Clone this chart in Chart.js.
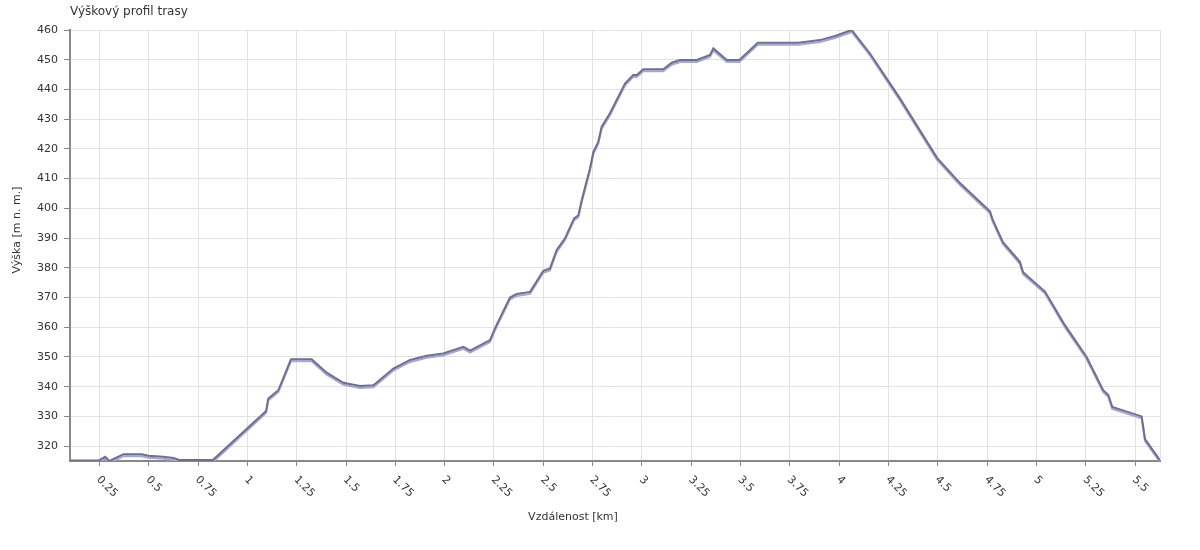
<!DOCTYPE html>
<html>
<head>
<meta charset="utf-8">
<script src="https://cdn.jsdelivr.net/npm/chart.js@4"></script>
<style>
  html, body { margin: 0; padding: 0; background: #fff; }
  #wrap { width: 1200px; height: 550px; }
</style>
</head>
<body>
<div id="wrap"><canvas id="profile" width="1200" height="550"></canvas></div>
<script>
// profile samples
const distKm = [0.101, 0.248, 0.279, 0.301, 0.372, 0.465, 0.498, 0.574, 0.625, 0.659, 0.825,
  1.095, 1.106, 1.157, 1.221, 1.326, 1.402, 1.487, 1.571, 1.639, 1.740, 1.825, 1.909, 1.993,
  2.095, 2.129, 2.230, 2.255, 2.331, 2.365, 2.433, 2.500, 2.534, 2.568, 2.610, 2.656, 2.678, 2.695,
  2.737, 2.754, 2.779, 2.796, 2.838, 2.914, 2.956, 2.974, 3.007, 3.108, 3.151, 3.193, 3.278,
  3.345, 3.362, 3.430, 3.494, 3.587, 3.793, 3.903, 3.979, 4.063, 4.156, 4.308, 4.496, 4.612,
  4.764, 4.779, 4.830, 4.916, 4.932, 5.043, 5.144, 5.254, 5.338, 5.364, 5.384, 5.533, 5.550, 5.626];
const elevM = [315.2, 315.2, 316.4, 315.0, 317.3, 317.3, 316.8, 316.4, 316.0, 315.3, 315.3,
  331.8, 336.0, 338.8, 349.2, 349.2, 344.7, 341.3, 340.2, 340.5, 346.1, 349.0, 350.4, 351.2,
  353.4, 352.1, 355.7, 359.6, 370.0, 371.2, 371.9, 379.0, 379.8, 386.0, 389.9, 396.6, 397.7, 402.8,
  413.5, 419.0, 422.4, 427.5, 432.0, 442.0, 444.9, 444.9, 446.8, 446.8, 449.0, 449.9, 449.9,
  451.6, 453.8, 449.9, 449.9, 455.7, 455.7, 456.6, 458.0, 460.0, 452.1, 437.0, 417.0, 408.5,
  399.0, 396.0, 388.6, 382.0, 378.5, 372.0, 360.7, 350.0, 338.8, 337.2, 333.2, 330.0, 322.4, 315.3];

const xTicks = [0.25, 0.5, 0.75, 1, 1.25, 1.5, 1.75, 2, 2.25, 2.5, 2.75, 3, 3.25, 3.5, 3.75, 4,
  4.25, 4.5, 4.75, 5, 5.25, 5.5];
const yTicks = [320, 330, 340, 350, 360, 370, 380, 390, 400, 410, 420, 430, 440, 450, 460];

const xMin = distKm[0], xMax = distKm[distKm.length - 1];
const titleText = 'Výškový profil trasy';
const xTitle = 'Vzdálenost [km]';
const yTitle = 'Výška [m n. m.]';

const FONT = '"DejaVu Sans", sans-serif';
const TEXT = '#333';

const points = distKm.map((d, i) => ({ x: d, y: elevM[i] }));

// shadow under the line + custom texts (rotated x labels, titles)
const decor = {
  id: 'decor',
  beforeDatasetsDraw(chart){
    const c = chart.ctx;
    c.save();
    c.shadowColor = '#a6a6d6';
    c.shadowOffsetX = 0;
    c.shadowOffsetY = 2;
    c.shadowBlur = 0;
  },
  afterDatasetsDraw(chart){
    chart.ctx.restore();
  },
  afterDraw(chart){
    const c = chart.ctx;
    const xs = chart.scales.x;
    const area = chart.chartArea;
    c.save();
    c.fillStyle = TEXT;
    c.font = '11px ' + FONT;
    c.textAlign = 'left';
    c.textBaseline = 'middle';
    xTicks.forEach(v => {
      const px = xs.getPixelForValue(v);
      c.save();
      c.translate(px - 1, 478);
      c.rotate(Math.PI / 4);
      c.fillText(String(v), 0, 0);
      c.restore();
    });
    c.textBaseline = 'alphabetic';
    c.font = '12px ' + FONT;
    c.fillText(titleText, area.left, 15);
    c.font = '11px ' + FONT;
    c.textAlign = 'center';
    c.fillText(xTitle, 573, 520);
    c.save();
    c.translate(17, 230);
    c.rotate(-Math.PI / 2);
    c.textBaseline = 'middle';
    c.fillText(yTitle, 0, 0);
    c.restore();
    c.restore();
  }
};

new Chart(document.getElementById('profile'), {
  type: 'line',
  data: {
    datasets: [{
      data: points,
      borderColor: '#6f6f8e',
      borderWidth: 2,
      pointRadius: 0,
      tension: 0,
      fill: false
    }]
  },
  options: {
    responsive: false,
    animation: false,
    parsing: false,
    layout: { padding: { top: 30, right: 40, left: 0, bottom: 0 } },
    plugins: { legend: { display: false }, tooltip: { enabled: false }, title: { display: false } },
    scales: {
      x: {
        type: 'linear',
        min: xMin,
        max: xMax,
        afterBuildTicks: s => { s.ticks = xTicks.concat([xMax]).map(v => ({ value: v })); },
        afterFit: s => { s.height = 89; },
        ticks: { display: false },
        grid: {
          color: '#e2e2e2',
          lineWidth: 1,
          tickLength: 5,
          tickColor: ctx => (ctx.tick && ctx.tick.value === xMax) ? 'rgba(0,0,0,0)' : '#888'
        },
        border: { color: '#888', width: 2 }
      },
      y: {
        min: 315,
        max: 460,
        afterBuildTicks: s => { s.ticks = yTicks.map(v => ({ value: v })); },
        afterFit: s => { s.width = 70; },
        ticks: { color: TEXT, font: { family: FONT, size: 11 }, padding: 6 },
        grid: { color: '#e2e2e2', lineWidth: 1, tickLength: 6, tickColor: '#888' },
        border: { color: '#888', width: 2 }
      }
    }
  },
  plugins: [decor]
});
</script>
</body>
</html>
